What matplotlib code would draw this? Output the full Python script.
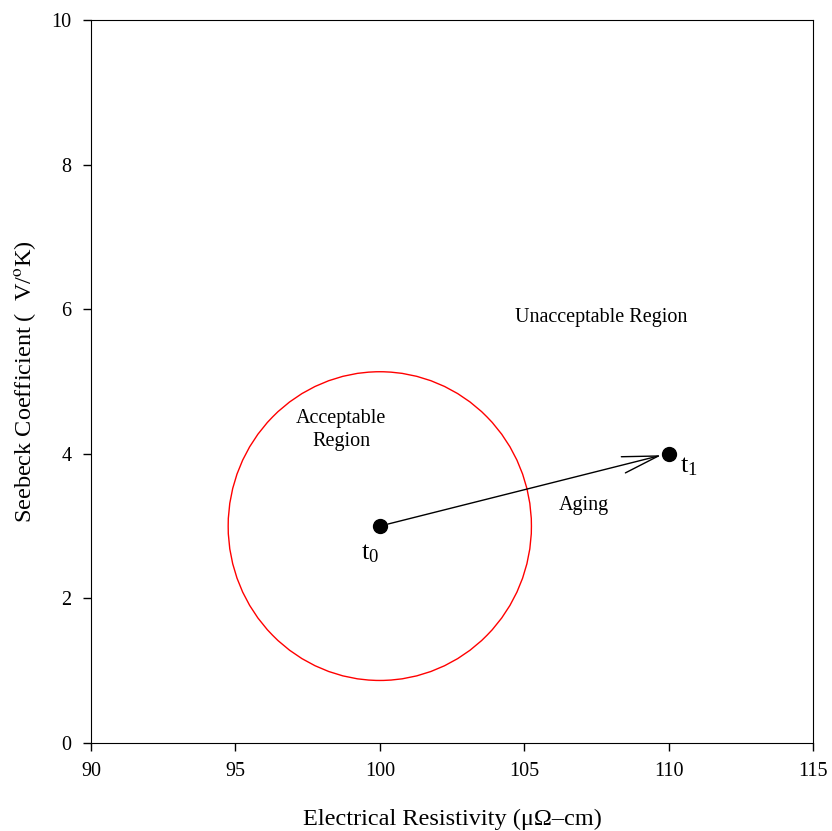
import matplotlib
matplotlib.use("Agg")
import matplotlib.pyplot as plt
from matplotlib.patches import Ellipse

plt.rcParams['font.family'] = ['Liberation Serif', 'DejaVu Serif']
plt.rcParams['mathtext.fontset'] = 'stix'

x_points = [100, 110]
y_points = [3, 4]
point_labels = ["t$_{\\mathregular{0}}$", "t$_{\\mathregular{1}}$"]
circle_center = (100, 3)
circle_width = 10.5
circle_height = 4.27
x_ticks = [90, 95, 100, 105, 110, 115]
y_ticks = [0, 2, 4, 6, 8, 10]

fig = plt.figure(figsize=(8.32, 8.31), dpi=100)
ax = fig.add_axes([91/832, 1 - 743/831, (813-91)/832, (743-20)/831])
ax.set_xlim(90, 115)
ax.set_ylim(0, 10)
ax.set_xticks(x_ticks)
ax.set_yticks(y_ticks)
ax.tick_params(direction='out', length=6, width=1, labelsize=14.5, pad=8)

ax.add_patch(Ellipse(circle_center, circle_width, circle_height, fill=False,
                     edgecolor='red', linewidth=1))
ax.annotate("", xy=(x_points[1] - 0.25, y_points[1] - 0.02), xytext=(x_points[0], y_points[0]),
            arrowprops=dict(arrowstyle='->,head_length=2.6,head_width=0.6', color='black', lw=1,
                            shrinkA=6, shrinkB=0))
ax.plot(x_points, y_points, 'o', color='black', markersize=10, zorder=5)

ax.text(99.66, 2.62, point_labels[0], fontsize=19, ha='center', va='center')
ax.text(110.7, 3.82, point_labels[1], fontsize=19, ha='center', va='center')
ax.text(107.66, 5.88, "Unacceptable Region", fontsize=14.5, ha='center', va='center')
ax.text(98.66, 4.33, "Acceptable\nRegion", fontsize=14.5, ha='center', va='center', linespacing=1.25)
ax.text(107.07, 3.29, "Aging", fontsize=14.5, ha='center', va='center')

ax.set_xlabel("Electrical Resistivity (μΩ–cm)", fontsize=17.5, labelpad=20)
ax.set_ylabel("Seebeck Coefficient (  V/$^{\\rm o}$K)", fontsize=17.5, labelpad=10)

fig.savefig("out.png", dpi=100)
